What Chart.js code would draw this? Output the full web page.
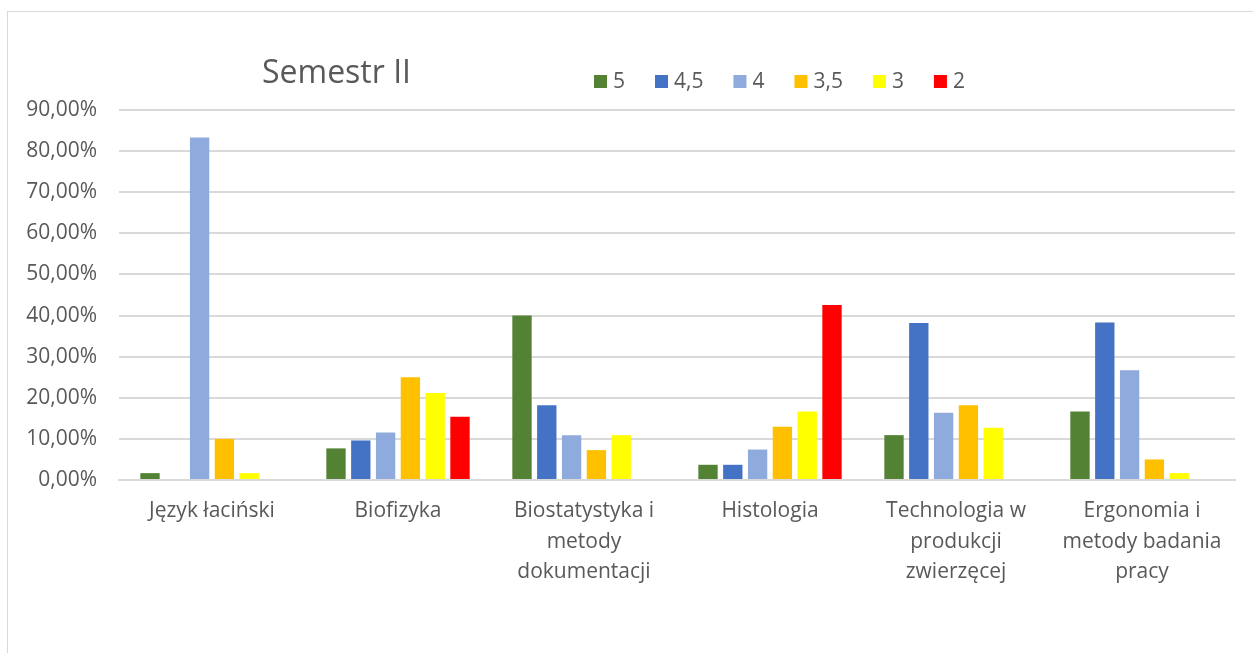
<!DOCTYPE html>
<html lang="pl">
<head>
    <meta charset="UTF-8">
    <title>Semestr II</title>
    <script src="https://cdn.jsdelivr.net/npm/chart.js"></script>
    <style>
        html, body { margin: 0; padding: 0; overflow: hidden; background: #fff; }
        #frame { position: absolute; left: 7px; top: 11px; width: 1300px; height: 700px; border: 1px solid #d9d9d9; }
        #semGraph { position: absolute; left: 0; top: 0; }
    </style>
</head>
<body>
    <div id="frame"></div>
    <canvas id="semGraph" width="1253" height="653"></canvas>
    <script>
// categories (subjects), one label line per array entry
var subjects = [
    ['Język łaciński'],
    ['Biofizyka'],
    ['Biostatystyka i', 'metody', 'dokumentacji'],
    ['Histologia'],
    ['Technologia w', 'produkcji', 'zwierzęcej'],
    ['Ergonomia i', 'metody badania', 'pracy']
];

// grades and their colours
var grades = ['5', '4,5', '4', '3,5', '3', '2'];
var gradeColors = ['#548235', '#4472C4', '#8FAADC', '#FFC000', '#FFFF00', '#FF0000'];

// share of students per grade (%), one value per subject
var grade5  = [1.67, 7.69, 40.00, 3.70, 10.91, 16.67];
var grade45 = [0, 9.62, 18.18, 3.70, 38.18, 38.33];
var grade4  = [83.33, 11.54, 10.91, 7.41, 16.36, 26.67];
var grade35 = [10.00, 25.00, 7.27, 12.96, 18.18, 5.00];
var grade3  = [1.67, 21.15, 10.91, 16.67, 12.73, 1.67];
var grade2  = [0, 15.38, 0, 42.59, 0, 0];

var yTicks = [0, 10, 20, 30, 40, 50, 60, 70, 80, 90];

var textColor = '#595959';
var fontName = '"Open Sans", "Noto Sans", sans-serif';

var seriesValues = [grade5, grade45, grade4, grade35, grade3, grade2];
var datasets = grades.map(function(g, i) {
    return {
        label: g,
        data: seriesValues[i],
        backgroundColor: gradeColors[i],
        borderWidth: 0,
        barPercentage: 0.78,
        categoryPercentage: 0.8
    };
});

// title and legend sit on one line in the original, so draw them here
var headerPlugin = {
    id: 'header',
    afterDraw: function(chart) {
        var ctx = chart.ctx;
        ctx.save();
        ctx.fillStyle = textColor;
        ctx.textBaseline = 'middle';
        ctx.textAlign = 'left';
        ctx.font = '32px ' + fontName;
        ctx.fillText('Semestr II', 262, 74);

        ctx.font = '21px ' + fontName;
        var x = 594;
        var y = 82;
        chart.data.datasets.forEach(function(ds) {
            ctx.fillStyle = ds.backgroundColor;
            ctx.fillRect(x, y - 7, 13, 13);
            ctx.fillStyle = textColor;
            ctx.fillText(ds.label, x + 19, y);
            x += 19 + ctx.measureText(ds.label).width + 30;
        });
        ctx.restore();
    }
};

var ctx = document.getElementById('semGraph').getContext('2d');
var semChart = new Chart(ctx, {
    type: 'bar',
    data: {
        labels: subjects,
        datasets: datasets
    },
    plugins: [headerPlugin],
    options: {
        responsive: false,
        animation: false,
        layout: {
            padding: { top: 110, left: 0, right: 18, bottom: 0 }
        },
        plugins: {
            legend: { display: false },
            title: { display: false },
            tooltip: { enabled: false }
        },
        scales: {
            x: {
                grid: { display: false, drawTicks: false },
                border: { color: '#d9d9d9', width: 2 },
                ticks: {
                    color: textColor,
                    padding: 16,
                    font: { family: fontName, size: 21, lineHeight: 1.45 }
                },
                afterFit: function(scale) { scale.height = 173; }
            },
            y: {
                min: 0,
                max: 90,
                afterBuildTicks: function(scale) {
                    scale.ticks = yTicks.map(function(v) { return { value: v }; });
                },
                grid: { color: '#d9d9d9', lineWidth: 2, drawTicks: false },
                border: { display: false },
                ticks: {
                    color: textColor,
                    padding: 22,
                    font: { family: fontName, size: 21 },
                    callback: function(v) { return v.toFixed(2).replace('.', ',') + '%'; }
                },
                afterFit: function(scale) { scale.width = 119; }
            }
        }
    }
});
    </script>
</body>
</html>
